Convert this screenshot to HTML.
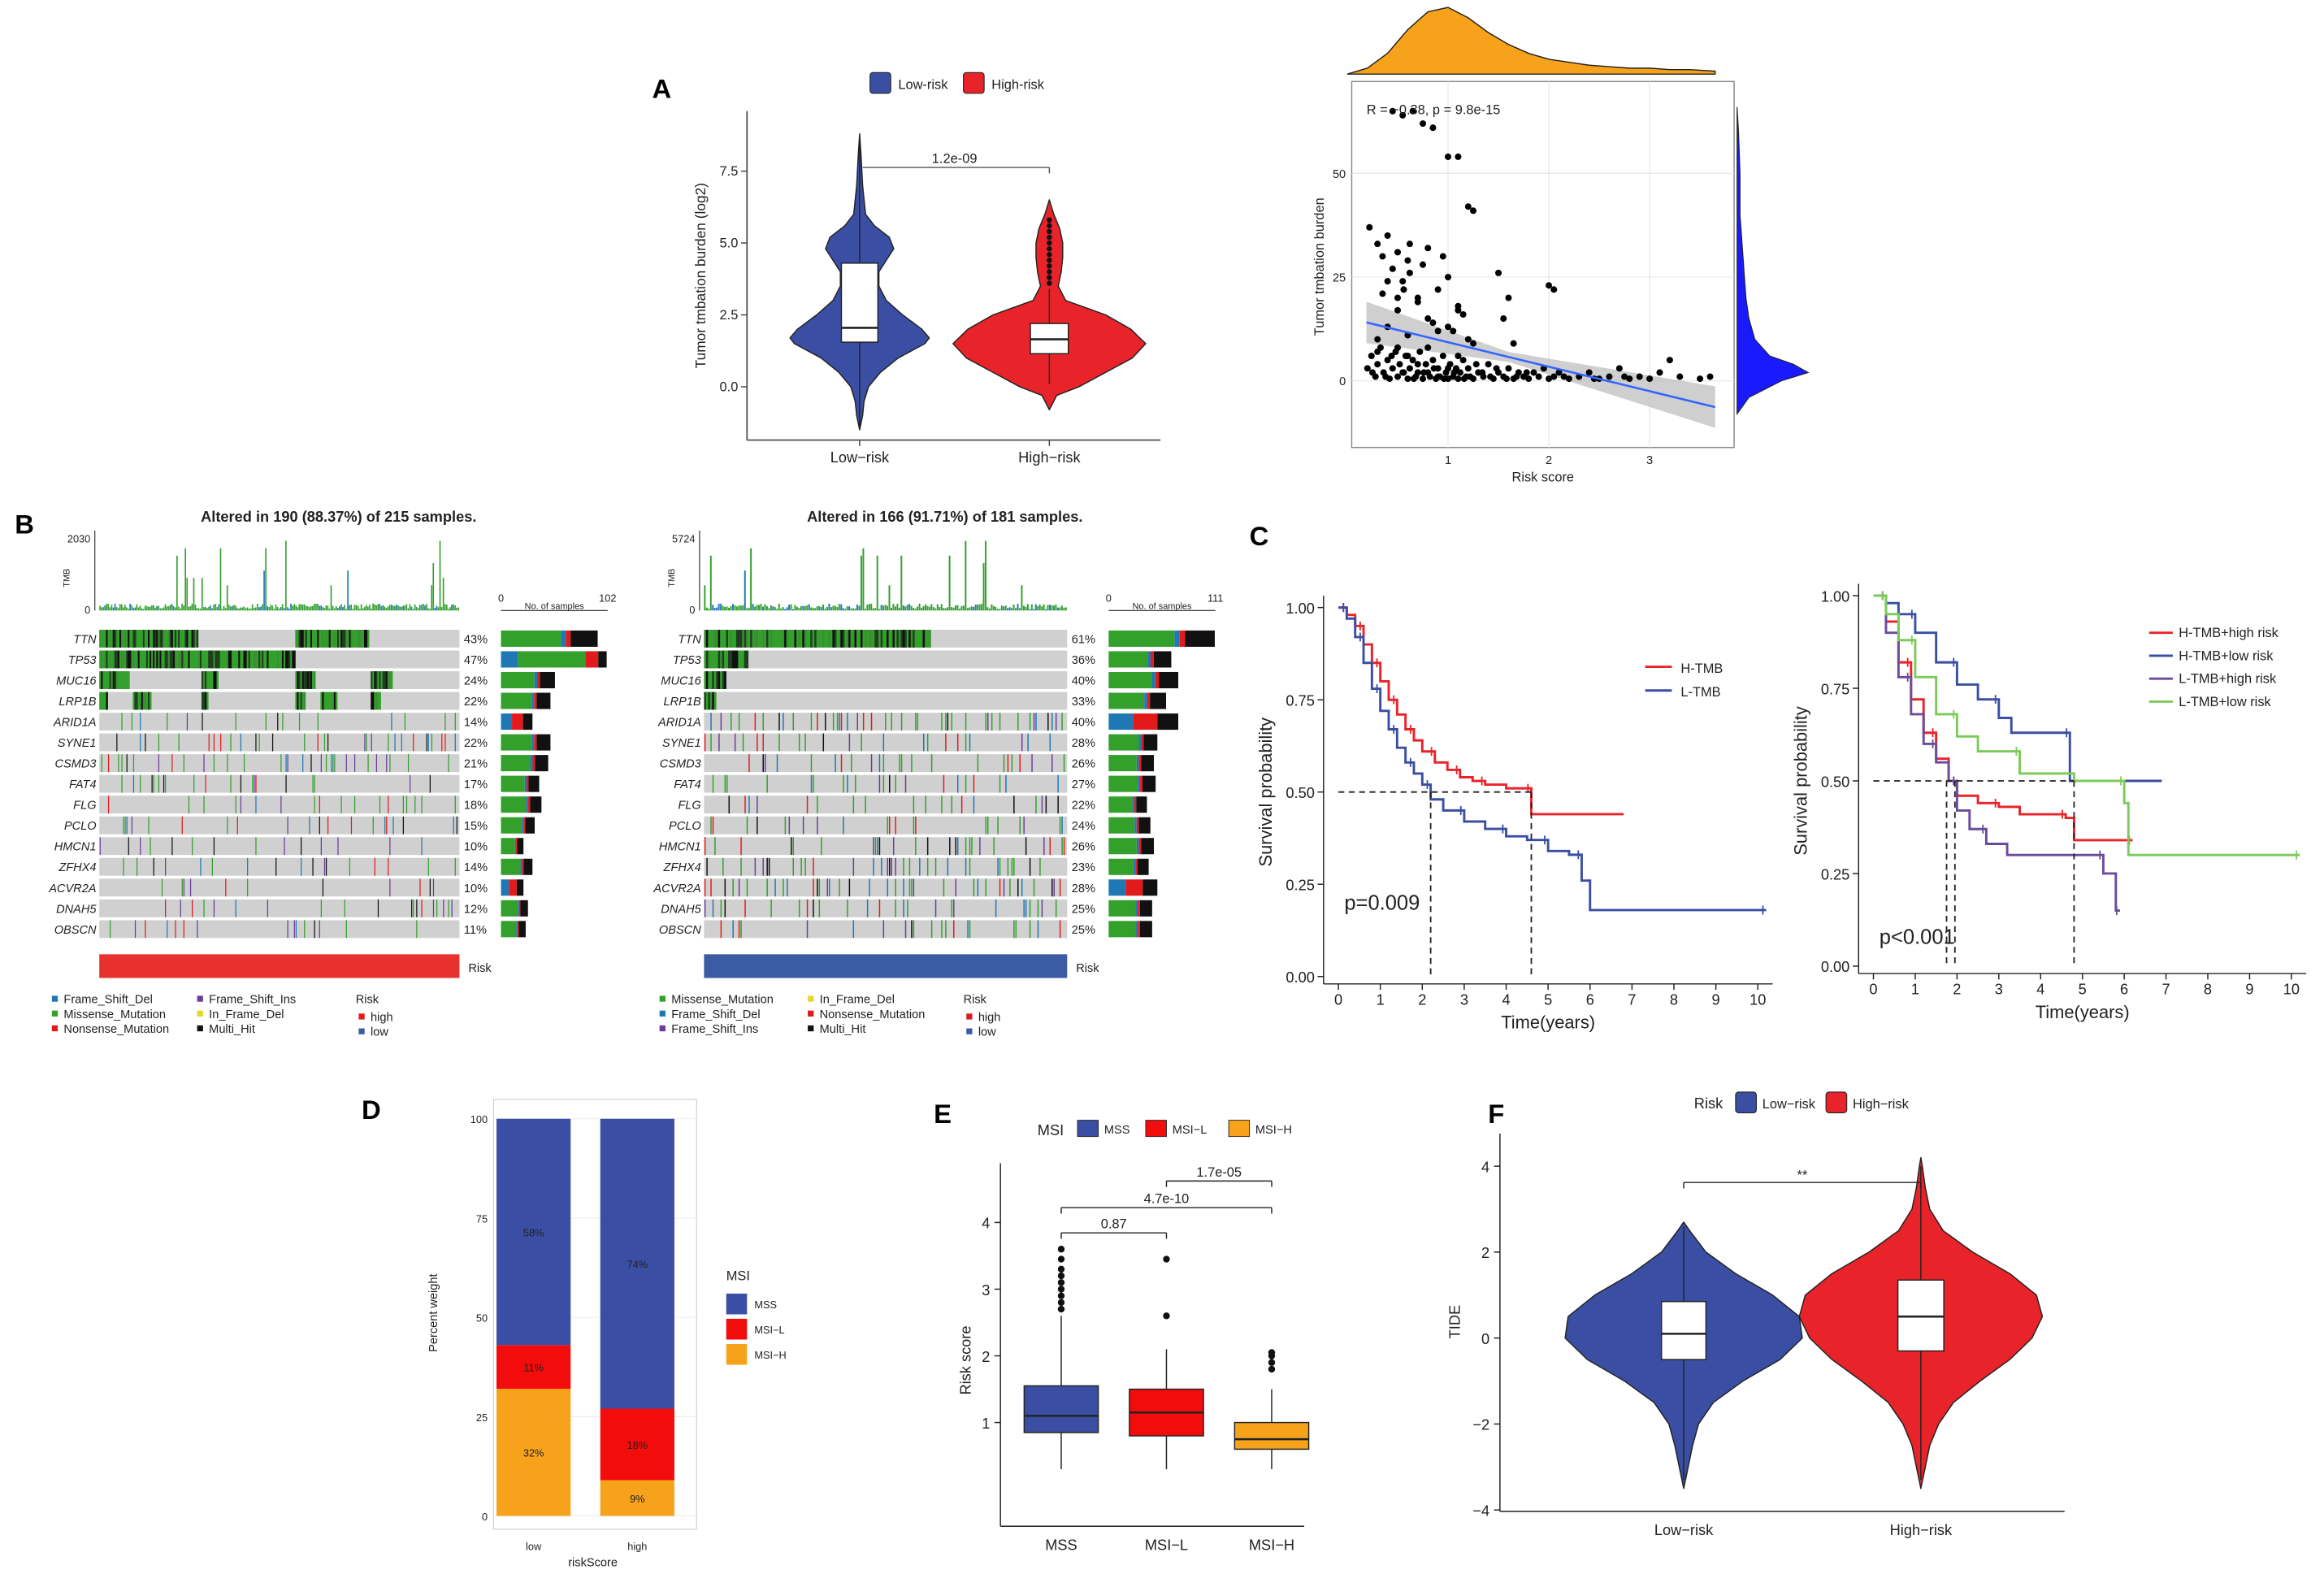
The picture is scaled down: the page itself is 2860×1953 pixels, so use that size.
<!DOCTYPE html>
<html><head><meta charset="utf-8"><title>Figure</title>
<style>html,body{margin:0;padding:0;background:#fff;}svg{display:block;}</style></head>
<body>
<svg id="fig" xmlns="http://www.w3.org/2000/svg" width="2860" height="1953" viewBox="0 0 1568 1071" preserveAspectRatio="none"></svg>
<script>
// ---------- data ----------
const violinAvals=[-1.5,-1,-0.5,0,0.5,1,1.5,1.7,2,2.5,3,3.5,4,4.4,4.8,5.2,5.6,6,7,8,8.8];
const violinAlowW=[0,2,3,6,14,26,44,47,42,29,18,13,13,18,23,20,10,4,2,1,0];
const violinAvalsH=[-0.8,-0.3,0,0.5,1,1.5,2,2.5,3,3.5,4,4.5,5,5.5,6,6.5];
const violinAhighW=[0,5,20,38,56,65,55,38,11,6,8,9,9,7,3,0];
const highOutliersA=[3.6,3.8,4.0,4.2,4.4,4.6,4.8,5.0,5.2,5.4,5.6,5.8];
const scatterPoints=[[0.2,3],[0.24,6],[0.28,1],[0.3,4],[0.33,8],[0.36,2],[0.4,5],[0.42,0.5],[0.45,3],[0.48,7],[0.5,1],[0.52,4],[0.55,2],[0.58,6],[0.6,0.5],[0.62,3],[0.65,5],[0.68,1],[0.7,2],[0.72,7],[0.75,0.5],[0.78,4],[0.8,2],[0.82,1],[0.85,5],[0.88,0.5],[0.9,3],[0.92,1],[0.95,6],[0.98,2],[1.0,0.5],[1.02,4],[1.05,1],[1.08,3],[1.1,0.5],[1.12,2],[1.15,5],[1.18,1],[1.2,3],[1.25,0.5],[1.3,2],[1.35,1],[1.4,4],[1.45,0.5],[1.5,2],[1.55,1],[1.6,3],[1.65,0.5],[1.7,2],[1.75,1],[1.8,0.5],[1.85,2],[1.9,1],[1.95,3],[2.0,0.5],[2.05,1],[2.1,2],[2.2,0.5],[2.3,1],[2.4,2],[2.5,0.5],[2.6,1],[2.7,3],[2.8,0.5],[2.9,1],[3.0,0.5],[3.1,2],[3.2,5],[3.3,1],[3.5,0.5],[3.6,1],
[0.25,2],[0.3,7],[0.38,1],[0.44,6],[0.5,8],[0.56,2],[0.6,6],[0.66,0.5],[0.7,4],[0.76,2],[0.8,8],[0.86,3],[0.9,1],[0.96,0.5],[1.0,3],[1.06,2],[1.1,6],[1.16,0.5],[1.22,1],[1.28,4],[1.34,2],[1.42,1],[1.48,3],[1.58,0.5],[1.68,1],[1.78,2],[2.15,1],[2.45,0.5],[2.75,1],
[0.22,37],[0.3,33],[0.35,30],[0.4,35],[0.45,27],[0.5,31],[0.55,24],[0.6,29],[0.62,33],[0.7,20],[0.75,28],[0.8,32],[0.85,14],[0.9,22],[0.95,30],[1.0,25],[1.05,12],[1.1,18],[1.15,16],[1.2,10],[1.25,9],[0.3,10],[0.4,13],[0.5,17],[0.6,11],[0.7,19],[0.8,15],[0.9,12],[1.0,13],[1.1,17],[1.5,26],[1.55,15],[1.6,20],[1.65,9],[2.0,23],[2.05,22],[0.45,65],[0.55,64],[0.65,65],[0.75,62],[0.85,61],[1.0,54],[1.1,54],[1.2,42],[1.25,41],[0.5,20],[0.56,22],[0.62,26],[0.4,24],[0.35,21]];
const topDensX=[0,0.2,0.4,0.6,0.8,1.0,1.2,1.4,1.6,1.8,2.0,2.2,2.4,2.6,2.8,3.0,3.2,3.4,3.65];
const topDens=[0,4,14,30,42,45,38,28,20,14,10,8,6,5,4,4,3,3,2];
const rightDensV=[-8,-4,0,2,4,6,10,15,20,25,30,35,40,50,60,66];
const rightDens=[0,8,30,48,38,22,12,8,6,5,4,3,2,2,1,0];
const genes=['TTN','TP53','MUC16','LRP1B','ARID1A','SYNE1','CSMD3','FAT4','FLG','PCLO','HMCN1','ZFHX4','ACVR2A','DNAH5','OBSCN'];
const pctLow=[43,47,24,22,14,22,21,17,18,15,10,14,10,12,11];
const pctHigh=[61,36,40,33,40,28,26,27,22,24,26,23,28,25,25];
const blocksLow=[[[0,0.27],[0.54,0.745]],[[0,0.54]],[[0,0.08],[0.28,0.33],[0.54,0.6],[0.75,0.81]],[[0,0.02],[0.09,0.14],[0.28,0.3],[0.54,0.57],[0.61,0.66],[0.75,0.78]]];
const blocksHigh=[[[0,0.62]],[[0,0.12]],[[0,0.06]],[[0,0.03]]];
const kmT1=[0,0.2,0.4,0.6,0.8,1.0,1.2,1.4,1.6,1.8,2.0,2.3,2.6,2.9,3.2,3.5,4.0,4.6,6.8];
const kmS1=[1,0.98,0.95,0.9,0.85,0.8,0.75,0.71,0.67,0.64,0.61,0.58,0.56,0.54,0.53,0.52,0.51,0.44,0.44];
const kmT2=[0,0.2,0.4,0.6,0.8,1.0,1.2,1.4,1.6,1.8,2.0,2.2,2.5,3.0,3.5,4.0,4.5,5.0,5.5,5.8,6.0,10.2];
const kmS2=[1,0.97,0.92,0.85,0.78,0.72,0.67,0.62,0.58,0.55,0.52,0.48,0.45,0.42,0.40,0.38,0.37,0.34,0.33,0.26,0.18,0.18];
const kmRT=[[0,0.3,0.6,0.9,1.2,1.5,1.8,2.0,2.5,3.0,3.5,4.6,4.8,6.2],[0,0.3,0.6,1.0,1.5,2.0,2.5,3.0,3.3,4.7,6.9],[0,0.3,0.6,0.9,1.2,1.5,1.8,2.0,2.3,2.7,3.2,5.5,5.8,5.9],[0,0.3,0.6,1.0,1.5,2.0,2.5,3.5,4.8,6.0,6.1,10.2]];
const kmRS=[[1,0.93,0.82,0.72,0.63,0.56,0.5,0.46,0.44,0.43,0.41,0.40,0.34,0.34],[1,0.98,0.95,0.9,0.82,0.76,0.72,0.67,0.63,0.50,0.50],[1,0.9,0.78,0.68,0.6,0.55,0.5,0.42,0.37,0.33,0.30,0.25,0.15,0.15],[1,0.95,0.88,0.78,0.68,0.62,0.58,0.52,0.50,0.44,0.30,0.30]];
const kmRNames=['H-TMB+high risk','H-TMB+low risk','L-TMB+high risk','L-TMB+low risk'];
const kmRCols=['#e8232a','#3a4fa3','#6b4c9a','#7ccb5a'];
const msiGroups=['low','high'];
const msiMSS=[58,74], msiL=[11,18], msiH=[32,9];
const eCats=['MSS','MSI-L','MSI-H'];
const eQ1=[0.85,0.8,0.6], eMed=[1.1,1.15,0.75], eQ3=[1.55,1.5,1.0], eLo=[0.3,0.3,0.3], eHi=[2.6,2.1,1.5];
const eOut=[[2.7,2.8,2.9,3.0,3.1,3.2,3.3,3.45,3.6],[2.6,3.45],[1.8,1.9,2.0,2.05]];
const fVals=[-3.5,-3,-2.5,-2,-1.5,-1,-0.5,0,0.5,1,1.5,2,2.5,2.7];
const fLowW=[0,3,6,10,20,40,65,80,78,60,35,15,4,0];
const fValsH=[-3.5,-3,-2.5,-2,-1.5,-1,-0.5,0,0.5,1,1.5,2,2.5,3,3.5,4,4.2];
const fHighW=[0,3,6,12,22,40,60,75,82,78,60,35,15,6,3,1,0];

// ---------- helpers ----------
const svg=document.getElementById('fig');
const NS='http://www.w3.org/2000/svg';
function mk(tag,attrs,name,parent){
  const e=document.createElementNS(NS,tag);
  for(const k in attrs)e.setAttribute(k,attrs[k]);
  
  
  (parent||svg).appendChild(e);return e;
}
function tx(x,y,s,size,opts,name){
  const t=mk('text',Object.assign({x:x,y:y,'font-size':size,'font-family':'Liberation Sans, sans-serif',fill:'#222'},opts||{}),name);
  t.textContent=s;return t;
}
function line(x1,y1,x2,y2,st,w,name,extra){return mk('line',Object.assign({x1,y1,x2,y2,stroke:st,'stroke-width':w},extra||{}),name);}
function violin(cx,vals,ws,yf,fill,name){
  let d='';
  for(let i=0;i<vals.length;i++)d+=(i?'L':'M')+(cx+ws[i])+' '+yf(vals[i]);
  for(let i=vals.length-1;i>=0;i--)d+='L'+(cx-ws[i])+' '+yf(vals[i]);
  return mk('path',{d:d+'Z',fill:fill,stroke:'#222','stroke-width':0.8,'stroke-linejoin':'round'},name);
}
function box(cx,hw,q1,md,q3,lo,hi,yf,fill,name){
  line(cx,yf(hi),cx,yf(q3),'#222',0.8,name+'-whisker-top');
  line(cx,yf(q1),cx,yf(lo),'#222',0.8,name+'-whisker-bottom');
  mk('rect',{x:cx-hw,y:yf(q3),width:2*hw,height:yf(q1)-yf(q3),fill:fill,stroke:'#222','stroke-width':0.8},name);
  line(cx-hw,yf(md),cx+hw,yf(md),'#222',1.4,name+'-median');
}
const BLUE='#3a4fa3', RED='#e8232a', ORANGE='#f7a21b';
function letter(x,y,s){tx(x,y,s,18,{'font-weight':'bold',fill:'#000'},'panel-label-'+s.toLowerCase());}

// ---------- Panel A violin ----------
letter(440,66,'A');
const yA=v=>261-19.4*v;
mk('rect',{x:587,y:49,width:14,height:14,fill:BLUE,stroke:'#222','stroke-width':0.6,rx:2},'legend-low-risk-swatch');
tx(606,60,'Low-risk',9,{},'legend-low-risk-label');
mk('rect',{x:650,y:49,width:14,height:14,fill:RED,stroke:'#222','stroke-width':0.6,rx:2},'legend-high-risk-swatch');
tx(669,60,'High-risk',9,{},'legend-high-risk-label');
line(504,75,504,297,'#444',0.9,'a-y-axis');line(504,297,783,297,'#444',0.9,'a-x-axis');
[0,2.5,5,7.5].forEach(v=>{line(500,yA(v),504,yA(v),'#444',0.8,'a-y-tick');tx(498,yA(v)+3,v.toFixed(1),9,{'text-anchor':'end'},'a-y-tick-label');});
tx(476,186,'Tumor tmbation burden (log2)',9.5,{transform:'rotate(-90 476 186)','text-anchor':'middle'},'a-y-axis-title');
violin(580,violinAvals,violinAlowW,yA,BLUE,'a-violin-low-risk');
violin(708,violinAvalsH,violinAhighW,yA,RED,'a-violin-high-risk');
box(580,12.3,1.55,2.05,4.3,-1.4,8.6,yA,'#fff','a-box-low-risk');
box(708,12.8,1.15,1.65,2.2,0.1,3.4,yA,'#fff','a-box-high-risk');
highOutliersA.forEach(v=>mk('circle',{cx:708,cy:yA(v),r:1.8,fill:'#111'},'a-outlier'));
line(582,113,708,113,'#555',0.8,'a-sig-bracket');line(708,113,708,117,'#555',0.8,'a-sig-tick');
tx(644,110,'1.2e-09',9,{'text-anchor':'middle'},'a-p-value');
line(580,297,580,301,'#444',0.8,'a-x-tick');line(708,297,708,301,'#444',0.8,'a-x-tick');
tx(580,312,'Low\u2212risk',10,{'text-anchor':'middle'},'a-x-label-low');tx(708,312,'High\u2212risk',10,{'text-anchor':'middle'},'a-x-label-high');

// ---------- Panel A scatter ----------
const sxF=v=>909+68*v, syF=v=>257-2.8*v;
mk('rect',{x:912,y:55,width:258,height:247,fill:'#fff',stroke:'#888','stroke-width':0.8},'scatter-panel');
[1,2,3].forEach(v=>line(sxF(v),55,sxF(v),302,'#e4e4e4',0.6,'scatter-grid-x'));
[0,25,50].forEach(v=>line(912,syF(v),1170,syF(v),'#e4e4e4',0.6,'scatter-grid-y'));
let dTop='M'+sxF(topDensX[0])+' 50';
topDensX.forEach((v,i)=>{dTop+='L'+sxF(v)+' '+(50-topDens[i]);});
dTop+='L'+sxF(topDensX[topDensX.length-1])+' 50Z';
mk('path',{d:dTop,fill:ORANGE,stroke:'#222','stroke-width':0.8},'top-density-risk-score');
let dR='M1172 '+syF(rightDensV[0]);
rightDensV.forEach((v,i)=>{dR+='L'+(1172+rightDens[i])+' '+syF(v);});
dR+='L1172 '+syF(rightDensV[rightDensV.length-1])+'Z';
mk('path',{d:dR,fill:'#1a1aff',stroke:'#222','stroke-width':0.6},'right-density-tmb');
const slope=-5.9, icpt=15.2;
const rx0=0.19, rx1=3.65;
mk('path',{d:`M${sxF(rx0)} ${syF(icpt+slope*rx0+5)}L${sxF(1.6)} ${syF(icpt+slope*1.6+1.2)}L${sxF(rx1)} ${syF(icpt+slope*rx1+5)}L${sxF(rx1)} ${syF(icpt+slope*rx1-5)}L${sxF(1.6)} ${syF(icpt+slope*1.6-1.2)}L${sxF(rx0)} ${syF(icpt+slope*rx0-5)}Z`,fill:'#bbb',opacity:0.7},'regression-confidence-band');
scatterPoints.forEach(p=>mk('circle',{cx:sxF(p[0]),cy:syF(p[1]),r:2.2,fill:'#000'},'scatter-point'));
line(sxF(rx0),syF(icpt+slope*rx0),sxF(rx1),syF(icpt+slope*rx1),'#3366ff',1.4,'regression-line');
tx(922,77,'R = \u22120.38, p = 9.8e-15',9,{},'correlation-annotation');
[0,25,50].forEach(v=>tx(908,syF(v)+3,String(v),8,{'text-anchor':'end'},'scatter-y-tick-label'));
[1,2,3].forEach(v=>tx(sxF(v),313,String(v),8,{'text-anchor':'middle'},'scatter-x-tick-label'));
tx(1041,325,'Risk score',9,{'text-anchor':'middle'},'scatter-x-axis-title');
tx(893,180,'Tumor tmbation burden',9,{transform:'rotate(-90 893 180)','text-anchor':'middle'},'scatter-y-axis-title');

// ---------- Panel B oncoplots ----------
letter(10,360,'B');
const blockCols=['#33a02c','#33a02c','#33a02c','#3a8f30','#111','#1f3f1f'];
const sparseCols=['#33a02c','#33a02c','#33a02c','#111','#1f78b4','#e31a1c','#6a3d9a'];
function hash(a,b){let h=(a*374761393+b*668265263)>>>0;h=((h^(h>>>13))*1274126177)>>>0;return (h^(h>>>16))>>>0;}
function onco(x0,x1,n,pcts,max,riskCol,seed,title,tmbMax,blocks,pre){
  const w=(x1-x0)/n, y0=424, rh=14;
  tx((x0+x1)/2+40,352,title,10,{'font-weight':'bold','text-anchor':'middle'},pre+'-title');
  line(x0-3,358,x0-3,412,'#222',0.6,pre+'-tmb-axis');
  tx(x0-6,366,String(tmbMax),7,{'text-anchor':'end'},pre+'-tmb-max');tx(x0-6,414,'0',7,{'text-anchor':'end'},pre+'-tmb-zero');
  tx(x0-20,390,'TMB',6,{transform:`rotate(-90 ${x0-20} 390)`,'text-anchor':'middle'},pre+'-tmb-title');
  for(let s=0;s<n;s++){
    const hv=hash(s,seed+99)%100; let h=1+hv/100*4; if(hv>92)h=12+(hv-92)*5;
    mk('rect',{x:x0+s*w,y:412-h,width:w*0.8,height:h,fill:hv%5?'#33a02c':'#1f78b4'},pre+'-tmb-bar');
  }
  pcts.forEach((p,g)=>{
    const y=y0+g*rh;
    mk('rect',{x:x0,y:y+1,width:x1-x0,height:rh-2,fill:'#d0d0d0'},pre+'-row-background');
    const bl=blocks[g]||[];
    for(let s=0;s<n;s++){
      const f=s/n, hv=hash(s+seed,g*31+7);
      const inBlock=bl.some(b=>f>=b[0]&&f<b[1]);
      if(inBlock){mk('rect',{x:x0+s*w,y:y+1,width:w+0.2,height:rh-2,fill:blockCols[(hv>>>8)%blockCols.length]},pre+'-mutation-cell');}
      else if(!bl.length && hv%100<p*0.55){mk('rect',{x:x0+s*w+w*0.2,y:y+1,width:w*0.6,height:rh-2,fill:sparseCols[(hv>>>8)%sparseCols.length]},pre+'-mutation-cell');}
    }
    tx(x0-2,y+10,genes[g],8,{'font-style':'italic','text-anchor':'end'},pre+'-gene-label');
    tx(x1+3,y+10,p+'%',8,{},pre+'-percent-label');
    const L=p/100*n/max*72, bx=x1+28;
    let segs=[[0.62,'#33a02c'],[0.05,'#1f78b4'],[0.05,'#e31a1c'],[0.28,'#111']];
    if(g===1&&pre==='b-left')segs=[[0.16,'#1f78b4'],[0.64,'#33a02c'],[0.12,'#e31a1c'],[0.08,'#111']];
    if(g===4||g===12)segs=[[0.35,'#1f78b4'],[0.35,'#e31a1c'],[0.3,'#111']];
    let cx=bx; segs.forEach(sg=>{mk('rect',{x:cx,y:y+1.5,width:L*sg[0],height:rh-3,fill:sg[1]},pre+'-count-bar-segment');cx+=L*sg[0];});
  });
  line(x1+28,412,x1+100,412,'#222',0.6,pre+'-count-axis');
  tx(x1+28,406,'0',7,{'text-anchor':'middle'},pre+'-count-axis-min');tx(x1+100,406,String(max),7,{'text-anchor':'middle'},pre+'-count-axis-max');
  tx(x1+64,411,'No. of samples',6,{'text-anchor':'middle'},pre+'-count-axis-title');
  mk('rect',{x:x0,y:644,width:x1-x0,height:16,fill:riskCol},pre+'-risk-bar');
  tx(x1+6,656,'Risk',8,{},pre+'-risk-label');
}
onco(67,310,215,pctLow,102,'#e8312f',1,'Altered in 190 (88.37%) of 215 samples.',2030,blocksLow,'b-left');
onco(475,720,181,pctHigh,111,'#3b5ba5',500,'Altered in 166 (91.71%) of 181 samples.',5724,blocksHigh,'b-right');
function legItem(x,y,c,s,pre){mk('rect',{x:x,y:y-5,width:4,height:4,fill:c},pre+'-legend-swatch');tx(x+8,y,s,8,{},pre+'-legend-label');}
[['Frame_Shift_Del','#1f78b4',35,677],['Missense_Mutation','#33a02c',35,687],['Nonsense_Mutation','#e31a1c',35,697],['Frame_Shift_Ins','#6a3d9a',133,677],['In_Frame_Del','#e6d62e',133,687],['Multi_Hit','#111',133,697]].forEach(a=>legItem(a[2],a[3],a[1],a[0],'b-left'));
tx(240,677,'Risk',8,{},'b-left-risk-legend-title');legItem(242,689,'#e31a1c','high','b-left-risk');legItem(242,699,'#3b5ba5','low','b-left-risk');
[['Missense_Mutation','#33a02c',445,677],['Frame_Shift_Del','#1f78b4',445,687],['Frame_Shift_Ins','#6a3d9a',445,697],['In_Frame_Del','#e6d62e',545,677],['Nonsense_Mutation','#e31a1c',545,687],['Multi_Hit','#111',545,697]].forEach(a=>legItem(a[2],a[3],a[1],a[0],'b-right'));
tx(650,677,'Risk',8,{},'b-right-risk-legend-title');legItem(652,689,'#e31a1c','high','b-right-risk');legItem(652,699,'#3b5ba5','low','b-right-risk');

// ---------- Panel C KM ----------
letter(843,368,'C');
function kmAxes(x0,xR,yTop,yBot,pre){
  const xf=t=>x0+(xR-x0)*t/10, yf=s=>yBot-(yBot-yTop)*s;
  line(x0-10,yTop-8,x0-10,yBot+5,'#222',0.8,pre+'-y-axis');line(x0-10,yBot+5,xR+10,yBot+5,'#222',0.8,pre+'-x-axis');
  [0,0.25,0.5,0.75,1].forEach(s=>{line(x0-14,yf(s),x0-10,yf(s),'#222',0.8,pre+'-y-tick');tx(x0-16,yf(s)+4,s.toFixed(2),10,{'text-anchor':'end'},pre+'-y-tick-label');});
  for(let t=0;t<=10;t++){line(xf(t),yBot+5,xf(t),yBot+9,'#222',0.8,pre+'-x-tick');tx(xf(t),yBot+19,String(t),10,{'text-anchor':'middle'},pre+'-x-tick-label');}
  tx((x0+xR)/2,yBot+35,'Time(years)',12,{'text-anchor':'middle'},pre+'-x-axis-title');
  tx(x0-45,(yTop+yBot)/2,'Survival probability',12,{transform:`rotate(-90 ${x0-45} ${(yTop+yBot)/2})`,'text-anchor':'middle'},pre+'-y-axis-title');
  return [xf,yf];
}
function kmCurve(T,S,xf,yf,col,name){
  let d='M'+xf(T[0])+' '+yf(S[0]);
  for(let i=1;i<T.length;i++)d+='H'+xf(T[i])+'V'+yf(S[i]);
  mk('path',{d:d,fill:'none',stroke:col,'stroke-width':1.6},name);
  for(let i=1;i<T.length;i+=2){const x=xf(T[i]-0.08),y=yf(S[i-1]);line(x,y-3,x,y+3,col,1,name+'-censor');}
}
let [cxf,cyf]=kmAxes(903,1186,410,659,'c-left');
kmCurve(kmT1,kmS1,cxf,cyf,RED,'km-h-tmb');kmCurve(kmT2,kmS2,cxf,cyf,BLUE,'km-l-tmb');
line(cxf(0),cyf(0.5),cxf(4.6),cyf(0.5),'#222',1,'c-left-median-line',{'stroke-dasharray':'4 3'});
line(cxf(2.2),cyf(0.5),cxf(2.2),cyf(0),'#222',1,'c-left-median-drop',{'stroke-dasharray':'4 3'});
line(cxf(4.6),cyf(0.5),cxf(4.6),cyf(0),'#222',1,'c-left-median-drop',{'stroke-dasharray':'4 3'});
tx(907,614,'p=0.009',14,{},'c-left-p-value');
line(1110,450,1128,450,RED,1.6,'c-left-legend-h-tmb-line');tx(1134,454,'H-TMB',9,{},'c-left-legend-h-tmb');
line(1110,466,1128,466,BLUE,1.6,'c-left-legend-l-tmb-line');tx(1134,470,'L-TMB',9,{},'c-left-legend-l-tmb');
let [rxf,ryf]=kmAxes(1264,1546,402,652,'c-right');
kmRT.forEach((T,i)=>kmCurve(T,kmRS[i],rxf,ryf,kmRCols[i],'km-'+kmRNames[i].replace(/[^a-z]/gi,'-').toLowerCase()));
line(rxf(0),ryf(0.5),rxf(4.8),ryf(0.5),'#222',1,'c-right-median-line',{'stroke-dasharray':'4 3'});
[1.75,1.95,4.8].forEach(t=>line(rxf(t),ryf(0.5),rxf(t),ryf(0),'#222',1,'c-right-median-drop',{'stroke-dasharray':'4 3'}));
tx(1268,637,'p<0.001',14,{},'c-right-p-value');
kmRNames.forEach((n,i)=>{const y=427+i*15.5;line(1450,y,1466,y,kmRCols[i],1.6,'c-right-legend-line');tx(1470,y+3,n,9,{},'c-right-legend-label');});

// ---------- Panel D ----------
letter(244,755,'D');
const dyF=p=>1023-2.68*p;
mk('rect',{x:333,y:742,width:137,height:290,fill:'#fff',stroke:'#ccc','stroke-width':0.6},'d-panel');
[0,25,50,75,100].forEach(p=>{line(333,dyF(p),470,dyF(p),'#ececec',0.6,'d-grid');tx(329,dyF(p)+3,String(p),7,{'text-anchor':'end'},'d-y-tick-label');});
msiGroups.forEach((g,i)=>{
  const x=335+i*70, w=50;
  let b=0;
  [[msiH[i],ORANGE,'msi-h'],[msiL[i],'#f20c0c','msi-l'],[100-msiH[i]-msiL[i],BLUE,'mss']].forEach(s=>{
    mk('rect',{x:x,y:dyF(b+s[0]),width:w,height:dyF(b)-dyF(b+s[0]),fill:s[1]},'d-bar-'+g+'-'+s[2]);b+=s[0];
  });
  tx(x+w/2,dyF(msiH[i]/2)+3,msiH[i]+'%',7,{'text-anchor':'middle'},'d-label-msi-h');
  tx(x+w/2,dyF(msiH[i]+msiL[i]/2)+3,msiL[i]+'%',7,{'text-anchor':'middle'},'d-label-msi-l');
  tx(x+w/2,dyF(msiH[i]+msiL[i]+(100-msiH[i]-msiL[i])/2)+3,msiMSS[i]+'%',7,{'text-anchor':'middle'},'d-label-mss');
  tx(x+w/2,1046,g,7,{'text-anchor':'middle'},'d-x-tick-label');
});
tx(400,1057,'riskScore',8,{'text-anchor':'middle'},'d-x-axis-title');
tx(295,886,'Percent weight',8,{transform:'rotate(-90 295 886)','text-anchor':'middle'},'d-y-axis-title');
tx(490,864,'MSI',9,{},'d-legend-title');
[['MSS',BLUE],['MSI-L','#f20c0c'],['MSI-H',ORANGE]].forEach((a,i)=>{mk('rect',{x:490,y:873+i*17,width:14,height:14,fill:a[1]},'d-legend-swatch');tx(509,883+i*17,a[0].replace('-','\u2212'),7,{},'d-legend-label');});

// ---------- Panel E ----------
letter(630,758,'E');
const eyF=v=>1005-45*v; const exs=[716,787,858]; const eCols=[BLUE,'#f20c0c',ORANGE];
line(675,785,675,1030,'#222',0.8,'e-y-axis');line(675,1030,880,1030,'#222',0.8,'e-x-axis');
[1,2,3,4].forEach(v=>{line(671,eyF(v),675,eyF(v),'#222',0.8,'e-y-tick');tx(668,eyF(v)+4,String(v),10,{'text-anchor':'end'},'e-y-tick-label');});
tx(655,918,'Risk score',10,{transform:'rotate(-90 655 918)','text-anchor':'middle'},'e-y-axis-title');
eCats.forEach((c,i)=>{
  box(exs[i],25,eQ1[i],eMed[i],eQ3[i],eLo[i],eHi[i],eyF,eCols[i],'e-box-'+c.toLowerCase());
  eOut[i].forEach(v=>mk('circle',{cx:exs[i],cy:eyF(v),r:2.3,fill:'#111'},'e-outlier'));
  tx(exs[i],1046,c.replace('-','\u2212'),10,{'text-anchor':'middle'},'e-x-tick-label');
});
[[716,787,832,'0.87'],[716,858,815,'4.7e-10'],[787,858,797,'1.7e-05']].forEach(b=>{
  line(b[0],b[2],b[1],b[2],'#222',0.8,'e-sig-bracket');line(b[0],b[2],b[0],b[2]+4,'#222',0.8,'e-sig-tick');line(b[1],b[2],b[1],b[2]+4,'#222',0.8,'e-sig-tick');
  tx((b[0]+b[1])/2,b[2]-3,b[3],9,{'text-anchor':'middle'},'e-p-value');
});
tx(700,766,'MSI',10,{},'e-legend-title');
[['MSS',BLUE,727],['MSI\u2212L','#f20c0c',773],['MSI\u2212H',ORANGE,829]].forEach(a=>{mk('rect',{x:a[2],y:756,width:14,height:11,fill:a[1],stroke:'#222','stroke-width':0.5},'e-legend-swatch');tx(a[2]+18,765,a[0],8,{},'e-legend-label');});

// ---------- Panel F ----------
letter(1004,758,'F');
const fyF=v=>903-29*v;
line(1012,765,1012,1020,'#222',0.8,'f-y-axis');line(1012,1020,1393,1020,'#222',0.8,'f-x-axis');
[-4,-2,0,2,4].forEach(v=>{line(1008,fyF(v),1012,fyF(v),'#222',0.8,'f-y-tick');tx(1005,fyF(v)+4,String(v).replace('-','\u2212'),10,{'text-anchor':'end'},'f-y-tick-label');});
tx(985,892,'TIDE',10,{transform:'rotate(-90 985 892)','text-anchor':'middle'},'f-y-axis-title');
violin(1136,fVals,fLowW,fyF,BLUE,'f-violin-low-risk');
violin(1296,fValsH,fHighW,fyF,RED,'f-violin-high-risk');
box(1136,15,-0.5,0.1,0.85,-3.3,2.6,fyF,'#fff','f-box-low-risk');
box(1296,15.5,-0.3,0.5,1.35,-3.3,4.0,fyF,'#fff','f-box-high-risk');
line(1136,798,1296,798,'#222',0.8,'f-sig-bracket');line(1136,798,1136,802,'#222',0.8,'f-sig-tick');line(1296,798,1296,802,'#222',0.8,'f-sig-tick');
tx(1216,796,'**',9,{'text-anchor':'middle'},'f-significance');
tx(1136,1036,'Low\u2212risk',10,{'text-anchor':'middle'},'f-x-label-low');tx(1296,1036,'High\u2212risk',10,{'text-anchor':'middle'},'f-x-label-high');
tx(1143,748,'Risk',10,{},'f-legend-title');
mk('rect',{x:1171,y:737,width:14,height:14,fill:BLUE,stroke:'#222','stroke-width':0.6,rx:2},'f-legend-low-swatch');tx(1189,748,'Low\u2212risk',9,{},'f-legend-low-label');
mk('rect',{x:1232,y:737,width:14,height:14,fill:RED,stroke:'#222','stroke-width':0.6,rx:2},'f-legend-high-swatch');tx(1250,748,'High\u2212risk',9,{},'f-legend-high-label');
</script>
</body></html>
